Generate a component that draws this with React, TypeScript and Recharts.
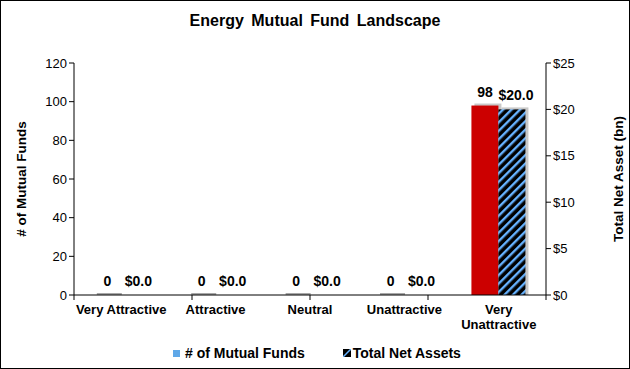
import React from 'react';
import { BarChart, Bar, XAxis, YAxis, LabelList, Label } from 'recharts';

const categories = ['Very Attractive', 'Attractive', 'Neutral', 'Unattractive', 'Very Unattractive'];
const fundCounts = [0, 0, 0, 0, 98];
const netAssets = [0.0, 0.0, 0.0, 0.0, 20.0];
const leftTicks = [0, 20, 40, 60, 80, 100, 120];
const rightTicks = [0, 5, 10, 15, 20, 25];
const boundaryTicks = [0, 1, 2, 3, 4, 5];

const data = categories.map((name, i) => ({ name, funds: fundCounts[i], assets: netAssets[i] }));

const FONT = '"Liberation Sans", Arial, sans-serif';
const RED = '#CC0000';
const BLUE = '#66B2FF';

const ShadowBar = (props: any) => {
  const { x, y, width, height, fill, stub } = props;
  const h = Math.max(0, height);
  return (
    <g>
      {h > 0 ? (
        <rect x={x + 3} y={y - 2} width={width} height={h + 2} fill="#C8C8C8" />
      ) : stub ? (
        <rect x={x + 3} y={y - 2} width={width - 2} height={2} fill="#A8A8A8" />
      ) : null}
      {h > 0 && <rect x={x} y={y} width={width} height={h} fill={fill} />}
    </g>
  );
};

const CatTick = (props: any) => {
  const { x, y, payload } = props;
  const v: string = payload.value;
  const lines = v === 'Very Unattractive' ? ['Very', 'Unattractive'] : [v];
  return (
    <text x={x} y={y} textAnchor="middle" fontFamily={FONT} fontSize={13} fontWeight="bold" fill="#000">
      {lines.map((l, i) => (
        <tspan key={i} x={x} dy={i === 0 ? 5 : 15}>{l}</tspan>
      ))}
    </text>
  );
};

const SideLabel = (text: string, dx: number) => (props: any) => {
  const vb = props.viewBox || {};
  const cx = vb.x + dx;
  const cy = vb.y + vb.height / 2;
  return (
    <text x={cx} y={cy} transform={`rotate(-90 ${cx} ${cy})`} textAnchor="middle" dominantBaseline="central"
      fontFamily={FONT} fontSize={13.5} fontWeight="bold" fill="#000">{text}</text>
  );
};

const labelStyle = { fontFamily: FONT, fontSize: 14, fontWeight: 'bold', fill: '#000' } as any;

export default function App() {
  return (
    <div style={{ position: 'absolute', left: 0, top: 0, width: 630, height: 369, boxSizing: 'border-box', border: '1px solid #000', background: '#fff', fontFamily: FONT }}>
      <div style={{ position: 'absolute', left: 0, top: 11, width: 628, textAlign: 'center', fontSize: 16, wordSpacing: 3, fontWeight: 'bold', color: '#000' }}>
        Energy Mutual Fund Landscape
      </div>
      <div style={{ position: 'absolute', top: -1, left: -1 }}>
        <BarChart width={630} height={369} data={data} margin={{ top: 63, right: 0, bottom: 28, left: 0 }}
          barCategoryGap="21%" barGap={0}>
          <defs>
            <pattern id="hatch" width="6" height="6" patternUnits="userSpaceOnUse" patternTransform="rotate(45)">
              <rect x="0" y="0" width="6" height="6" fill="#000" />
              <rect x="0" y="0" width="2.4" height="6" fill={BLUE} />
            </pattern>
          </defs>
          <XAxis xAxisId="a_grid" type="number" domain={[0, 5]} ticks={boundaryTicks} allowDataOverflow
            height={6} tickSize={5} tickFormatter={() => ''} stroke="#000" axisLine={{ stroke: '#000' }} tickLine={{ stroke: '#000' }} />
          <XAxis xAxisId="b_cat" dataKey="name" height={40} axisLine={false} tickLine={false} interval={0} tick={<CatTick />} />
          <YAxis yAxisId="left" orientation="left" width={74} domain={[0, 120]} ticks={leftTicks} interval={0}
            tickSize={5} stroke="#000" tick={{ fontFamily: FONT, fontSize: 13, fill: '#000' }}>
            <Label content={SideLabel('# of Mutual Funds', 21)} />
          </YAxis>
          <YAxis yAxisId="right" orientation="right" width={84} domain={[0, 25]} ticks={rightTicks} interval={0}
            tickSize={5} stroke="#000" tickFormatter={(v: number) => `$${v}`} tick={{ fontFamily: FONT, fontSize: 13, fill: '#000' }}>
            <Label content={SideLabel('Total Net Asset (bn)', 72)} />
          </YAxis>
          <Bar xAxisId="b_cat" yAxisId="left" dataKey="funds" fill={RED} isAnimationActive={false}
            shape={(p: any) => <ShadowBar {...p} stub />}>
            <LabelList dataKey="funds" position="top" offset={9} style={labelStyle} />
          </Bar>
          <Bar xAxisId="b_cat" yAxisId="right" dataKey="assets" fill="url(#hatch)" isAnimationActive={false}
            shape={(p: any) => <ShadowBar {...p} />}>
            <LabelList dataKey="assets" position="top" offset={9} dx={4} formatter={(v: any) => `$${Number(v).toFixed(1)}`}
              style={labelStyle} />
          </Bar>
        </BarChart>
      </div>
      <div style={{ position: 'absolute', left: 172, top: 344, display: 'flex', alignItems: 'center', fontSize: 14, fontWeight: 'bold', color: '#000', whiteSpace: 'nowrap' }}>
        <span style={{ display: 'inline-block', width: 7, height: 7, background: '#5FA8E8', marginRight: 5 }} />
        <span style={{ marginRight: 38 }}># of Mutual Funds</span>
        <svg width={8} height={8} style={{ marginRight: 2 }}>
          <rect x={0} y={0} width={8} height={8} fill="#000" />
          <line x1={0} y1={8} x2={8} y2={0} stroke={BLUE} strokeWidth={1.5} />
        </svg>
        <span>Total Net Assets</span>
      </div>
    </div>
  );
}
